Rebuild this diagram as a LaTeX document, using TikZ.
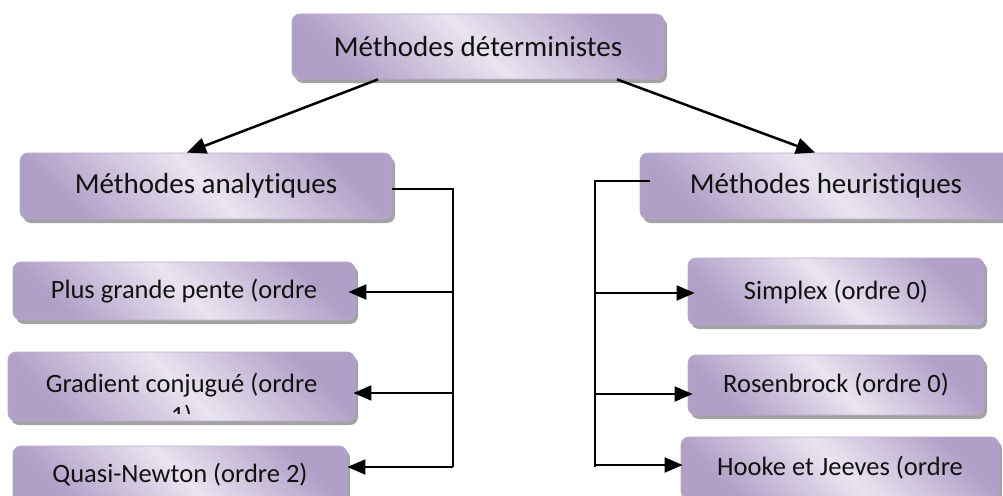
\documentclass[tikz,border=0pt]{standalone}
\usepackage{fontspec}
\setmainfont{Carlito}[Ligatures={NoCommon,TeX}]
\usetikzlibrary{arrows.meta,shadows,calc}
\definecolor{boxlight}{HTML}{E9E4F0}
\definecolor{boxmid}{HTML}{B09FC7}
\definecolor{boxedge}{HTML}{B8AACD}
\definecolor{shadowgray}{HTML}{A3A3A3}
\definecolor{inkc}{HTML}{111111}
\tikzset{
  box/.style={rounded corners=8pt, draw=boxedge, line width=0.8pt,
    top color=boxmid, bottom color=boxmid, middle color=boxlight, shading angle=-45,
    drop shadow={shadow xshift=3pt, shadow yshift=-4pt, fill=shadowgray, opacity=1},
    inner sep=0pt, text=inkc},
  hdr/.style={box, font=\fontsize{29}{35}\selectfont},
  leaf/.style={box, font=\fontsize{26.5}{32}\selectfont},
  bus/.style={line width=2pt, draw=black},
  arr/.style={line width=2pt, draw=black, -{Triangle[length=18pt,width=15pt]}},
  diag/.style={line width=2.5pt, draw=black, -{Triangle[length=19pt,width=16pt]}},
  lbl/.style={text=inkc, inner sep=0pt, font=\fontsize{26.5}{32}\selectfont}
}
\begin{document}
\begin{tikzpicture}[x=1pt,y=-1pt]
\useasboundingbox (0,0) rectangle (1003,495);
\clip (0,0) rectangle (1003,495);
% boxes
\node[hdr, minimum width=372pt, minimum height=65pt] (top) at (478,46.5) {Méthodes déterministes};
\node[hdr, minimum width=372pt, minimum height=66pt] (ana) at (206,186) {Méthodes analytiques};
\node[hdr, minimum width=372pt, minimum height=66pt] (heu) at (826,186) {Méthodes heuristiques};
\node[leaf, minimum width=342pt, minimum height=58pt] (pgp) at (184,291) {Plus grande pente (ordre};
\node[leaf, minimum width=347pt, minimum height=69pt] (gc) at (181.5,386.5) {};
\node[lbl, anchor=base] (gct) at (181.5,392) {Gradient conjugué (ordre};
\begin{scope}
\clip (0,396) rectangle (400,413);
\node[lbl, anchor=base] (gcu) at (181.5,424) {1)};
\end{scope}
\node[leaf, minimum width=334pt, minimum height=58pt] (qn) at (180,475) {Quasi-Newton (ordre 2)};
\node[leaf, minimum width=296pt, minimum height=67pt] (sx) at (836,291.5) {Simplex (ordre 0)};
\node[leaf, minimum width=296pt, minimum height=60pt] (rb) at (836,385) {Rosenbrock (ordre 0)};
\node[leaf, minimum width=318pt, minimum height=62pt] (hj) at (840,468) {Hooke et Jeeves (ordre};
% top arrows
\draw[diag] ([xshift=-100pt]top.south) -- ([xshift=-19pt]ana.north);
\draw[diag] ([xshift=139pt]top.south) -- ([xshift=-11pt]heu.north);
% left bus
\coordinate (bl1) at (453,189);
\coordinate (bl2) at (453,467);
\draw[bus] ([yshift=-3pt]ana.east) -- (bl1) -- (bl2);
\coordinate (l1) at (453,292);
\coordinate (l2) at (453,393);
\coordinate (l3) at (453,467);
\draw[arr] (l1) -- ([xshift=-7pt]pgp.east |- l1);
\draw[arr] (l2) -- ([xshift=-2pt]gc.east |- l2);
\draw[arr] (l3) -- (qn.east |- l3);
% right bus
\coordinate (br1) at (595,181);
\coordinate (br2) at (595,467);
\draw[bus] ([xshift=10pt,yshift=5pt]heu.west) -- (br1) -- (br2);
\coordinate (r1) at (595,293);
\coordinate (r2) at (595,394);
\coordinate (r3) at (595,465);
\draw[arr] (r1) -- ([xshift=7pt]sx.west |- r1);
\draw[arr] (r2) -- ([xshift=5pt]rb.west |- r2);
\draw[arr] (r3) -- ([xshift=2pt]hj.west |- r3);
\end{tikzpicture}
\end{document}
